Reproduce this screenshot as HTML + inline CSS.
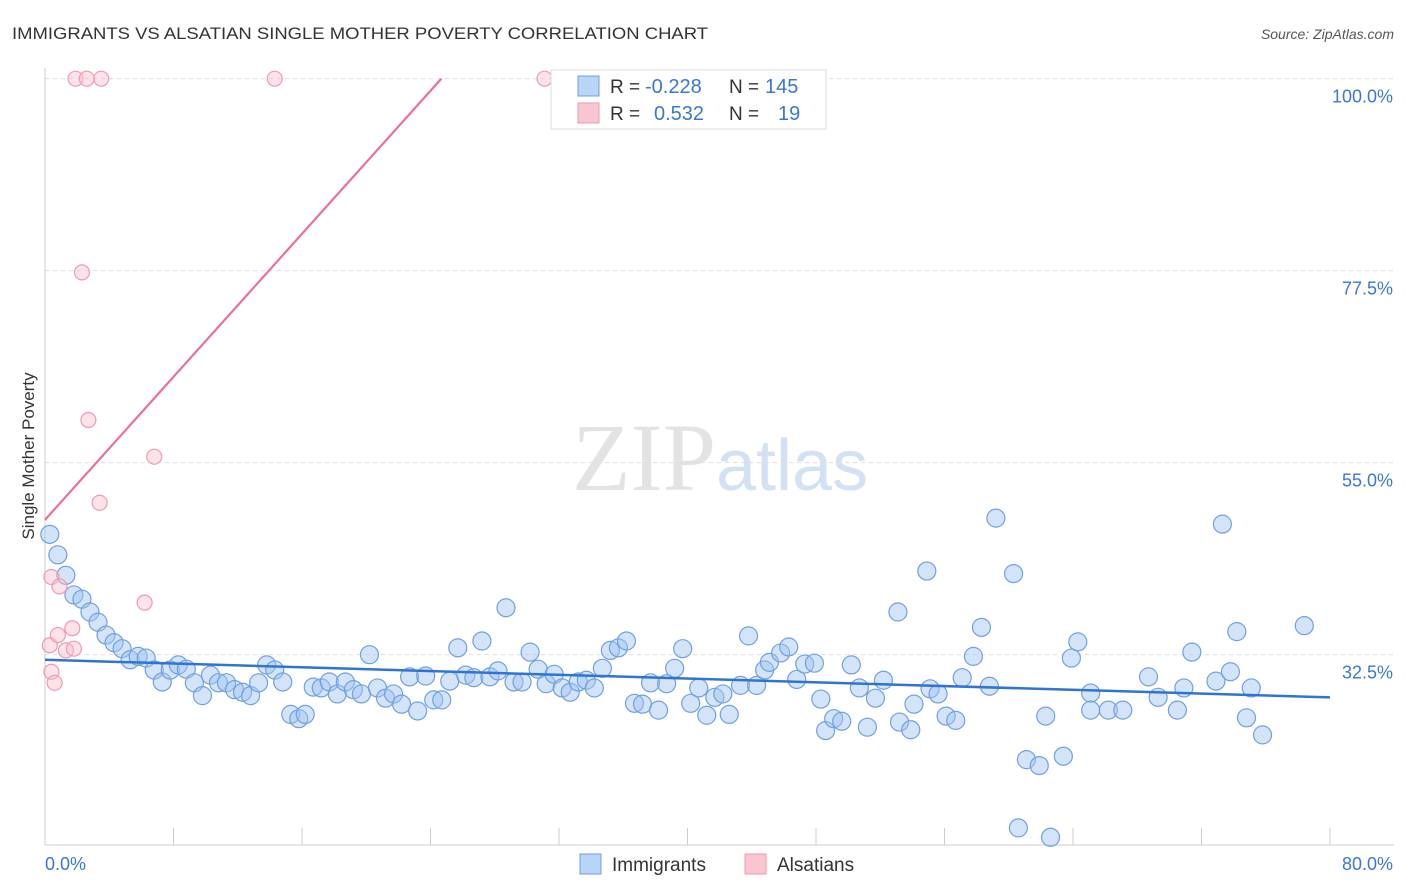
<!DOCTYPE html>
<html><head><meta charset="utf-8"><style>
body{margin:0;background:#fff;font-family:"Liberation Sans",sans-serif}
svg{display:block}
</style></head><body>
<svg id="c" width="1406" height="892">
<text x="12" y="39" font-size="17" fill="#333" textLength="696" lengthAdjust="spacingAndGlyphs">IMMIGRANTS VS ALSATIAN SINGLE MOTHER POVERTY CORRELATION CHART</text>
<text x="1394" y="39" font-size="14" fill="#555" font-style="italic" text-anchor="end">Source: ZipAtlas.com</text>
<text x="716" y="490" font-size="96" fill="#e3e3e3" text-anchor="end" font-family="Liberation Serif">ZIP</text>
<text x="716" y="490" font-size="72" fill="#d2e2f4">atlas</text>
<text transform="translate(34,456) rotate(-90)" font-size="17" fill="#333" text-anchor="middle">Single Mother Poverty</text>
<g id="grid"></g><g id="axes"></g><g id="pts"></g><g id="lines"></g>
<g>
<rect x="551" y="70" width="275" height="59" fill="#fff" stroke="#ddd"/>
<rect x="578" y="76" width="21" height="20" fill="#b8d4f6" stroke="#6fa0e0"/>
<rect x="578" y="103" width="21" height="20" fill="#f8c5d2" stroke="#ee9ab2"/>
<text x="610" y="93" font-size="19" fill="#333">R = </text><text x="645" y="93" font-size="20" fill="#3a78d0">-0.228</text>
<text x="729" y="93" font-size="19" fill="#333">N = </text><text x="765" y="93" font-size="20" fill="#3a78d0">145</text>
<text x="610" y="120" font-size="19" fill="#333">R = </text><text x="654" y="120" font-size="20" fill="#3a78d0">0.532</text>
<text x="729" y="120" font-size="19" fill="#333">N = </text><text x="778" y="120" font-size="20" fill="#3a78d0">19</text>
</g>
<g>
<rect x="580" y="854" width="21" height="20" fill="#b8d4f6" stroke="#6fa0e0"/>
<text x="612" y="871" font-size="19" fill="#333">Immigrants</text>
<rect x="745" y="854" width="21" height="20" fill="#f8c5d2" stroke="#ee9ab2"/>
<text x="777" y="871" font-size="19" fill="#333">Alsatians</text>
</g>
</svg>
<script>
const blueX=[0.3,0.8,1.3,1.8,2.3,2.8,3.3,3.8,4.3,4.8,5.3,5.8,6.3,6.8,7.3,7.8,8.3,8.8,9.3,9.8,10.3,10.8,11.3,11.8,12.3,12.8,13.3,13.8,14.3,14.8,15.3,15.8,16.2,16.7,17.2,17.7,18.2,18.7,19.2,19.7,20.2,20.7,21.2,21.7,22.2,22.7,23.2,23.7,24.2,24.7,25.2,25.7,26.2,26.7,27.2,27.7,28.2,28.7,29.2,29.7,30.2,30.7,31.2,31.7,32.2,32.7,33.2,33.7,34.2,34.7,35.2,35.7,36.2,36.7,37.2,37.7,38.2,38.7,39.2,39.7,40.2,40.7,41.2,41.7,42.2,42.6,43.3,43.8,44.3,44.8,45.1,45.8,46.3,46.8,47.3,47.9,48.3,48.6,49.1,49.6,50.2,50.7,51.2,51.7,52.2,53.1,53.2,53.9,54.1,54.9,55.1,55.6,56.1,56.7,57.1,57.8,58.3,58.8,59.2,60.3,60.6,61.1,61.9,62.3,62.6,63.4,63.9,64.3,65.1,65.1,66.2,67.1,68.7,69.3,70.5,70.9,71.4,72.9,73.3,73.8,74.2,74.8,75.1,75.8,78.4];
const blueY=[46.6,44.2,41.8,39.5,39.0,37.5,36.3,34.8,33.9,33.2,31.9,32.3,32.1,30.7,29.3,30.7,31.3,30.8,29.2,27.7,30.1,29.2,29.2,28.4,28.1,27.7,29.2,31.3,30.7,29.3,25.5,25.0,25.5,28.7,28.6,29.3,27.9,29.3,28.4,27.9,32.5,28.6,27.4,27.9,26.7,29.9,25.9,30.0,27.2,27.2,29.4,33.3,30.1,29.8,34.1,29.9,30.6,38.0,29.3,29.3,32.8,30.8,29.1,30.2,28.6,28.1,29.3,29.5,28.6,30.9,33.0,33.3,34.1,26.8,26.7,29.2,26.0,29.1,30.9,33.2,26.8,28.6,25.4,27.5,27.9,25.5,28.9,34.7,28.9,30.7,31.6,32.7,33.4,29.6,31.4,31.5,27.3,23.6,25.0,24.7,31.3,28.6,24.0,27.4,29.5,37.5,24.6,23.7,26.7,42.3,28.5,27.9,25.3,24.8,29.8,32.3,35.7,28.8,48.5,42.0,12.2,20.2,19.5,25.3,11.1,20.6,32.1,34.0,28.0,26.0,26.0,26.0,29.9,27.5,26.0,28.6,32.8,29.4,47.8,30.5,35.2,25.1,28.6,23.1,35.9];
const pinkX=[0.3,0.4,0.6,0.4,0.8,0.9,1.3,1.7,1.8,1.9,2.6,3.5,2.3,2.7,3.4,6.2,6.8,14.3,31.1];
const pinkY=[33.6,30.5,29.2,41.6,34.8,40.5,33.0,35.6,33.2,100,100,100,77.3,60.0,50.3,38.6,55.7,100,100];
const yTicks=[32.5,55.0,77.5,100.0];
const xTicks=[0,8,16,24,32,40,48,56,64,72,80];
const blueTrend=[31.9,27.5];
const pinkTrend=[48.3,2.095];
const NS='http://www.w3.org/2000/svg';
const X=v=>45+v*1285/80, Y=v=>932-v*192/22.5;
function mk(p,t,a){const e=document.createElementNS(NS,t);for(const k in a)e.setAttribute(k,a[k]);document.getElementById(p).appendChild(e);return e;}
yTicks.forEach(v=>{
 const l=mk('grid','line',{x1:45,x2:1394,y1:Y(v),y2:Y(v),stroke:'#ddd','stroke-dasharray':'4,4'});
 
 
 const t=mk('grid','text',{x:1393,y:Y(v)+24,'font-size':18,fill:'#3a78d0','text-anchor':'end'});t.textContent=v.toFixed(1)+'%';
 
 
});
mk('axes','line',{x1:45,x2:45,y1:68,y2:845,stroke:'#ccc'});
mk('axes','line',{x1:45,x2:1394,y1:845,y2:845,stroke:'#ccc'});
xTicks.forEach(v=>{const l=mk('axes','line',{x1:X(v),x2:X(v),y1:828,y2:845,stroke:'#ccc'});
 
 });
let t0=mk('axes','text',{x:45,y:870,'font-size':18,fill:'#3a78d0'});t0.textContent='0.0%';


let t1=mk('axes','text',{x:1393,y:870,'font-size':18,fill:'#3a78d0','text-anchor':'end'});t1.textContent='80.0%';


blueX.forEach((x,i)=>{const c=mk('pts','circle',{cx:X(x),cy:Y(blueY[i]),r:9,fill:'rgba(160,196,240,0.45)',stroke:'#6fa0e0','stroke-width':1.2});
 
 });
pinkX.forEach((x,i)=>{const c=mk('pts','circle',{cx:X(x),cy:Y(pinkY[i]),r:7.5,fill:'rgba(248,190,206,0.45)',stroke:'#ee9ab2','stroke-width':1.2});
 
 });
const bl=mk('lines','line',{x1:X(0),y1:Y(blueTrend[0]),x2:X(80),y2:Y(blueTrend[1]),stroke:'#2f74d4','stroke-width':2.5});


const xe=(100-pinkTrend[0])/pinkTrend[1];
const pl=mk('lines','line',{x1:X(0),y1:Y(pinkTrend[0]),x2:X(xe),y2:Y(100),stroke:'#e8709a','stroke-width':2.2});


</script>
</body></html>
